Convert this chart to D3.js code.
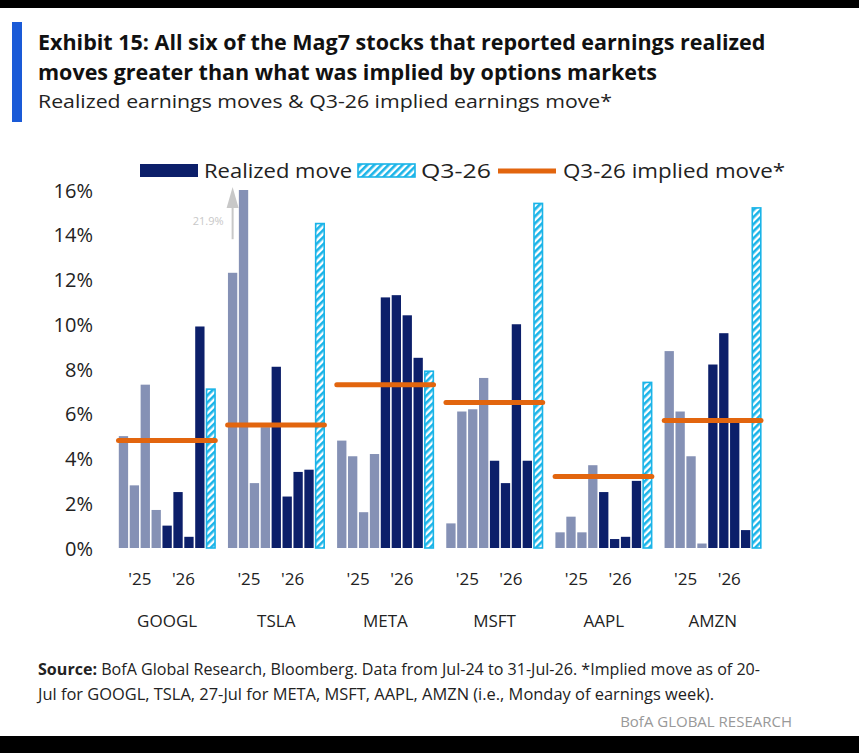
<!DOCTYPE html>
<html><head><meta charset="utf-8">
<script src="https://cdn.jsdelivr.net/npm/d3@7"></script>
<style>body{margin:0;background:#000}svg{display:block}</style>
</head><body>
<script>
// data
var tickers = ["GOOGL", "TSLA", "META", "MSFT", "AAPL", "AMZN"];
var moves25 = [[5.0,2.8,7.3,1.7],[12.3,21.9,2.9,5.4],[4.8,4.1,1.6,4.2],[1.1,6.1,6.2,7.6],[0.7,1.4,0.7,3.7],[8.8,6.1,4.1,0.2]];
var moves26 = [[1.0,2.5,0.5,9.9],[8.1,2.3,3.4,3.5],[11.2,11.3,10.4,8.5],[3.9,2.9,10.0,3.9],[2.5,0.4,0.5,3.0],[8.2,9.6,5.6,0.8]];
var q326 = [7.1, 14.5, 7.9, 15.4, 7.4, 15.2];
var implied = [4.8, 5.5, 7.3, 6.5, 3.2, 5.7];
var yTicks = [0,2,4,6,8,10,12,14,16];

var W = 859, H = 753;
var svg = d3.select("body").append("svg").attr("width", W).attr("height", H);
svg.append("rect").attr("x",0).attr("y",8).attr("width",W).attr("height",728).attr("fill","#fff");

var defs = svg.append("defs");
var pat = defs.append("pattern").attr("id","hatch").attr("patternUnits","userSpaceOnUse")
  .attr("width",5).attr("height",5).attr("patternTransform","rotate(45)");
pat.append("rect").attr("width",5).attr("height",5).attr("fill","#fff");
pat.append("rect").attr("width",2.6).attr("height",5).attr("fill","#1ab4e8");

var font = "'Open Sans', sans-serif";
var cfont = "'Liberation Sans Narrow', 'Roboto Condensed', 'Open Sans', sans-serif";
svg.append("rect").attr("x",12).attr("y",22).attr("width",10).attr("height",100).attr("fill","#1a5ad7");
svg.append("text").attr("x",38).attr("y",50).attr("font-family",font).attr("font-weight",700).attr("font-size",21.5).attr("fill","#111")
  .text("Exhibit 15: All six of the Mag7 stocks that reported earnings realized");
svg.append("text").attr("x",38).attr("y",80).attr("font-family",font).attr("font-weight",700).attr("font-size",21.5).attr("fill","#111")
  .text("moves greater than what was implied by options markets");
svg.append("text").attr("x",38).attr("y",108).attr("font-family",font).attr("font-size",19).attr("fill","#222")
  .attr("textLength",574).attr("lengthAdjust","spacingAndGlyphs")
  .text("Realized earnings moves & Q3-26 implied earnings move*");

var y = d3.scaleLinear().domain([0,16]).range([548,190]);
var x0 = d3.scaleBand().domain(tickers).range([118,762]).paddingInner(0.1).paddingOuter(0);
var bw = x0.bandwidth() / 9;

var yAxis = svg.append("g").attr("transform","translate(96,0)")
  .call(d3.axisLeft(y).tickValues(yTicks).tickFormat(function(d){return d+"%";}).tickSize(0));
yAxis.select(".domain").remove();
yAxis.selectAll("text").attr("font-family",font).attr("font-size",20).attr("fill","#222").attr("dy","0.35em");

tickers.forEach(function(t, i) {
  var gx = x0(t);
  var vals = moves25[i].concat(moves26[i]);
  vals.forEach(function(v, j) {
    var top = y(Math.min(v, 16));
    svg.append("rect").attr("x", gx + j*bw + 0.8).attr("y", top)
      .attr("width", bw - 1.6).attr("height", y(0) - top)
      .attr("fill", j < 4 ? "#8591b5" : "#0c1f6a");
  });
  var hx = gx + 8*bw + 1.2;
  svg.append("rect").attr("x", hx).attr("y", y(q326[i]))
    .attr("width", bw - 2.4).attr("height", y(0) - y(q326[i]))
    .attr("fill","url(#hatch)").attr("stroke","#1ab4e8").attr("stroke-width",1.6);
  svg.append("line").attr("x1", gx + 0.5).attr("x2", gx + 9*bw - 1)
    .attr("y1", y(implied[i])).attr("y2", y(implied[i]))
    .attr("stroke","#e2650e").attr("stroke-width",5).attr("stroke-linecap","round");
  svg.append("text").attr("x", gx + 2*bw).attr("y", 585).attr("text-anchor","middle")
    .attr("font-family",font).attr("font-size",17).attr("fill","#222").text("'25");
  svg.append("text").attr("x", gx + 6*bw).attr("y", 585).attr("text-anchor","middle")
    .attr("font-family",font).attr("font-size",17).attr("fill","#222").text("'26");
  svg.append("text").attr("x", gx + 4.5*bw).attr("y", 627).attr("text-anchor","middle")
    .attr("font-family",font).attr("font-size",17).attr("fill","#222").text(t);
});

// 21.9% callout on clipped TSLA bar
var tx = x0("TSLA") + bw*0.5;
svg.append("line").attr("x1",tx).attr("x2",tx).attr("y1",y(13.8)).attr("y2",y(15.6)).attr("stroke","#c8c8c8").attr("stroke-width",2);
svg.append("path").attr("d","M"+(tx-6)+","+y(15.2)+" L"+tx+","+(y(16)-3)+" L"+(tx+6)+","+y(15.2)+"Z").attr("fill","#c8c8c8");
svg.append("text").attr("x",tx-9).attr("y",y(14.6)+4).attr("text-anchor","end").attr("font-family",font)
  .attr("font-size",11).attr("fill","#c8c8c8").text("21.9%");

// legend
var lg = svg.append("g").attr("font-family",font).attr("font-size",20).attr("fill","#222");
lg.append("rect").attr("x",140).attr("y",164).attr("width",58).attr("height",13).attr("fill","#0c1f6a");
lg.append("text").attr("x",204).attr("y",178).attr("textLength",148).attr("lengthAdjust","spacingAndGlyphs").text("Realized move");
lg.append("rect").attr("x",358).attr("y",164).attr("width",57).attr("height",13).attr("fill","url(#hatch)").attr("stroke","#1ab4e8").attr("stroke-width",1.6);
lg.append("text").attr("x",421).attr("y",178).attr("textLength",70).attr("lengthAdjust","spacingAndGlyphs").text("Q3-26");
lg.append("line").attr("x1",498).attr("x2",556).attr("y1",171).attr("y2",171).attr("stroke","#e2650e").attr("stroke-width",5);
lg.append("text").attr("x",563).attr("y",178).attr("textLength",222).attr("lengthAdjust","spacingAndGlyphs").text("Q3-26 implied move*");

// source
var src = svg.append("text").attr("x",38).attr("y",675).attr("font-family",font).attr("font-size",15.5).attr("fill","#222")
  .attr("textLength",722).attr("lengthAdjust","spacingAndGlyphs");
src.append("tspan").attr("font-weight",700).text("Source:");
src.append("tspan").text(" BofA Global Research, Bloomberg. Data from Jul-24 to 31-Jul-26. *Implied move as of 20-");
svg.append("text").attr("x",38).attr("y",700).attr("font-family",font).attr("font-size",15.5).attr("fill","#222")
  .attr("textLength",676).attr("lengthAdjust","spacingAndGlyphs")
  .text("Jul for GOOGL, TSLA, 27-Jul for META, MSFT, AAPL, AMZN (i.e., Monday of earnings week).");
svg.append("text").attr("x",792).attr("y",727).attr("text-anchor","end").attr("font-family",font).attr("font-size",15).attr("fill","#999")
  .text("BofA GLOBAL RESEARCH");
</script>
</body></html>
